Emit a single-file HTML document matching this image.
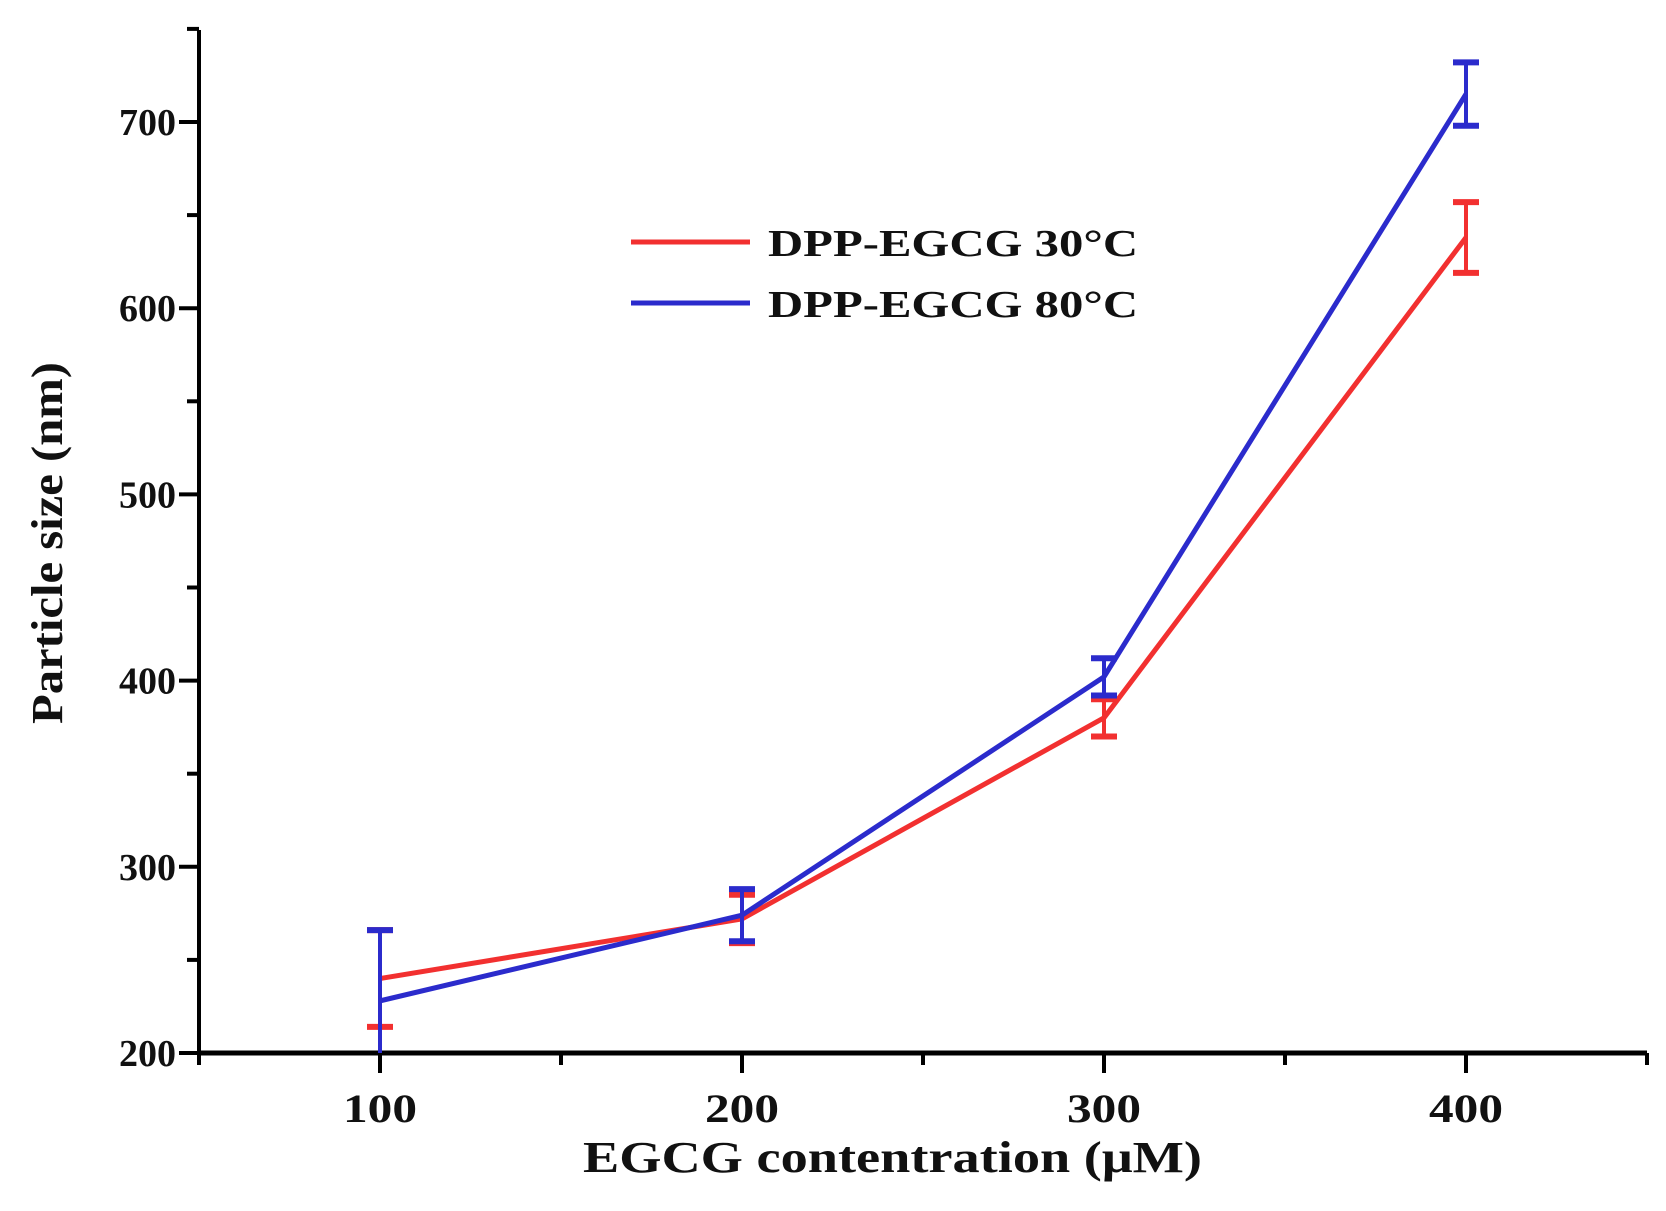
<!DOCTYPE html>
<html><head><meta charset="utf-8"><style>
html,body{margin:0;padding:0;background:#fff;}
svg{display:block;font-family:"Liberation Serif",serif;font-weight:bold;}
</style></head><body>
<svg id="chart" width="1666" height="1211" viewBox="0 0 1666 1211">
<g id="axes"></g>
<g id="series"></g>
<g id="legend">
  <line x1="631" y1="242" x2="750" y2="242" stroke="#f23030" stroke-width="5"/>
  <text x="768" y="256" font-size="38" fill="#111" textLength="370" lengthAdjust="spacingAndGlyphs">DPP-EGCG 30°C</text>
  <line x1="631" y1="303" x2="750" y2="303" stroke="#2b2bcc" stroke-width="5"/>
  <text x="768" y="317" font-size="38" fill="#111" textLength="370" lengthAdjust="spacingAndGlyphs">DPP-EGCG 80°C</text>
</g>
<text x="583" y="1172" font-size="44" fill="#111" textLength="619" lengthAdjust="spacingAndGlyphs">EGCG contentration (μM)</text>
<text transform="translate(62,724) rotate(-90)" font-size="44" fill="#111" textLength="362" lengthAdjust="spacingAndGlyphs">Particle size (nm)</text>
</svg>
<script>
const categories = [100, 200, 300, 400];
const red30 = [240, 272, 380, 638];
const red30Err = [26, 13, 10, 19];
const blue80 = [228, 274, 402, 715];
const blue80Err = [38, 14, 10, 17];
const xTicks = [100, 200, 300, 400];
const yTicks = [200, 300, 400, 500, 600, 700];

const NS = "http://www.w3.org/2000/svg";
const X0 = 199, X1 = 1647, XMIN = 50, XMAX = 450;
const Y0 = 1053, YMIN = 200, PX_PER = 1.862;
const xs = v => X0 + (v - XMIN) * (X1 - X0) / (XMAX - XMIN);
const ys = v => Y0 - (v - YMIN) * PX_PER;
function mk(tag, attrs, parent) {
  const e = document.createElementNS(NS, tag);
  for (const k in attrs) e.setAttribute(k, attrs[k]);
  parent.appendChild(e);
  return e;
}
const axes = document.getElementById('axes');
let e = mk('line', {x1: X0, y1: Y0, x2: X1, y2: Y0, stroke: '#000', 'stroke-width': 5}, axes);


e = mk('line', {x1: X0, y1: Y0 + 2, x2: X0, y2: 30, stroke: '#000', 'stroke-width': 4}, axes);


for (let v = 50; v <= 450; v += 50) {
  const major = v % 100 === 0;
  e = mk('line', {x1: xs(v), y1: Y0, x2: xs(v), y2: Y0 + (major ? 20 : 12), stroke: '#000', 'stroke-width': 4}, axes);
  
  
}
xTicks.forEach(v => {
  e = mk('text', {x: xs(v) - 37, y: 1122, 'font-size': 40, textLength: 74, lengthAdjust: 'spacingAndGlyphs', fill: '#111'}, axes);
  e.textContent = v;
  
  
});
for (let v = 200; v <= 750; v += 50) {
  const major = v % 100 === 0;
  e = mk('line', {x1: X0, y1: ys(v), x2: X0 - (major ? 20 : 12), y2: ys(v), stroke: '#000', 'stroke-width': 4}, axes);
  
  
}
yTicks.forEach(v => {
  e = mk('text', {x: 176, y: ys(v) + 13, 'font-size': 38, 'text-anchor': 'end', fill: '#111'}, axes);
  e.textContent = v;
  
  
});
const series = document.getElementById('series');
function draw(vals, errs, color, name) {
  const g = mk('g', {}, series);
  
  
  const pts = categories.map((c, i) => xs(c) + ',' + ys(vals[i])).join(' ');
  e = mk('polyline', {points: pts, fill: 'none', stroke: color, 'stroke-width': 5, 'stroke-linejoin': 'round'}, g);
  
  
  categories.forEach((c, i) => {
    const x = xs(c), lo = Math.max(ys(vals[i] - errs[i]), 0), hi = ys(vals[i] + errs[i]);
    const eb = mk('g', {stroke: color, 'stroke-width': 4}, g);
    
    
    mk('line', {x1: x, y1: Math.min(lo, Y0), x2: x, y2: hi}, eb);
    mk('line', {x1: x - 13, y1: hi, x2: x + 13, y2: hi, 'stroke-width': 6}, eb);
    if (lo < Y0 - 3) mk('line', {x1: x - 13, y1: lo, x2: x + 13, y2: lo, 'stroke-width': 6}, eb);
  });
}
draw(red30, red30Err, '#f23030', '30c');
draw(blue80, blue80Err, '#2b2bcc', '80c');
</script>
</body></html>
